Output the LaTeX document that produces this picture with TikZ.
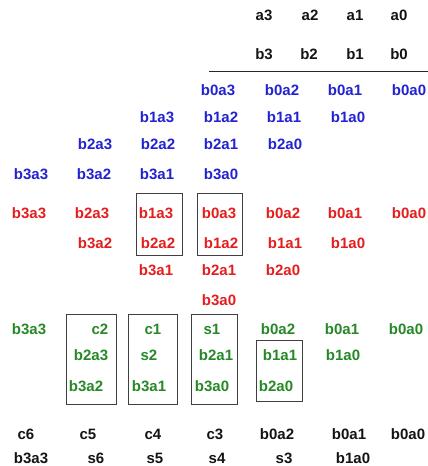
\documentclass[tikz,border=0pt]{standalone}
\usepackage{fontspec}
\setmainfont{Liberation Sans}
\definecolor{ppblue}{RGB}{34,34,208}
\definecolor{ppred}{RGB}{226,30,30}
\definecolor{ppgreen}{RGB}{38,136,38}
\definecolor{ppink}{RGB}{20,20,20}
\begin{document}
\begin{tikzpicture}[x=1pt,y=-1pt,
  term/.style={anchor=base,inner sep=0pt,font=\fontsize{15}{18}\selectfont\bfseries},
  opnd/.style={term,text=ppink},
  pblue/.style={term,text=ppblue},
  pred/.style={term,text=ppred},
  pgreen/.style={term,text=ppgreen},
  res/.style={term,text=ppink},
  group/.style={draw=black!75,line width=0.8pt},
  rule/.style={draw=black!85,line width=1.3pt}]
\useasboundingbox (0,0) rectangle (428,466);

% operands
\node[opnd] (a3) at (264,20.5) {a3};
\node[opnd] (a2) at (310,20.5) {a2};
\node[opnd] (a1) at (355,20.5) {a1};
\node[opnd] (a0) at (399,20.5) {a0};
\node[opnd] (b3) at (264,59) {b3};
\node[opnd] (b2) at (309,59) {b2};
\node[opnd] (b1) at (355,59) {b1};
\node[opnd] (b0) at (399,59) {b0};
\coordinate (ruleL) at (209,71.5);
\coordinate (ruleR) at (428,71.5);
\draw[rule] (ruleL) -- (ruleR);

% partial products
\node[pblue] (u03) at (218,95.5) {b0a3};
\node[pblue] (u02) at (282,95.5) {b0a2};
\node[pblue] (u01) at (345,95.5) {b0a1};
\node[pblue] (u00) at (409,95.5) {b0a0};
\node[pblue] (u13) at (157,122.5) {b1a3};
\node[pblue] (u12) at (221,122.5) {b1a2};
\node[pblue] (u11) at (284,122.5) {b1a1};
\node[pblue] (u10) at (348,122.5) {b1a0};
\node[pblue] (u23) at (95,149) {b2a3};
\node[pblue] (u22) at (158,149) {b2a2};
\node[pblue] (u21) at (221,149) {b2a1};
\node[pblue] (u20) at (285,149) {b2a0};
\node[pblue] (u33) at (31,179) {b3a3};
\node[pblue] (u32) at (94,179) {b3a2};
\node[pblue] (u31) at (157,179) {b3a1};
\node[pblue] (u30) at (221,179) {b3a0};

% first reduction
\node[pred] (r33) at (29,218) {b3a3};
\node[pred] (r23) at (92,218) {b2a3};
\node[pred] (r13) at (156,218) {b1a3};
\node[pred] (r03) at (219,218) {b0a3};
\node[pred] (r02) at (283,218) {b0a2};
\node[pred] (r01) at (345,218) {b0a1};
\node[pred] (r00) at (409,218) {b0a0};
\node[pred] (r32) at (95,248) {b3a2};
\node[pred] (r22) at (158,248) {b2a2};
\node[pred] (r12) at (221,248) {b1a2};
\node[pred] (r11) at (285,248) {b1a1};
\node[pred] (r10) at (348,248) {b1a0};
\node[pred] (r31) at (156,275) {b3a1};
\node[pred] (r21) at (219,275) {b2a1};
\node[pred] (r20) at (283,275) {b2a0};
\node[pred] (r30) at (219,305) {b3a0};
\draw[group] (136,193) rectangle (182,255);
\draw[group] (197,193) rectangle (242,255);

% second reduction
\node[pgreen] (g33) at (29,334) {b3a3};
\node[pgreen] (gc2) at (100,334) {c2};
\node[pgreen] (gc1) at (153,334) {c1};
\node[pgreen] (gs1) at (212,334) {s1};
\node[pgreen] (g02) at (278,334) {b0a2};
\node[pgreen] (g01) at (342,334) {b0a1};
\node[pgreen] (g00) at (406,334) {b0a0};
\node[pgreen] (g23) at (91,360.5) {b2a3};
\node[pgreen] (gs2) at (149,360.5) {s2};
\node[pgreen] (g21) at (216,360.5) {b2a1};
\node[pgreen] (g11) at (280,360.5) {b1a1};
\node[pgreen] (g10) at (343,360.5) {b1a0};
\node[pgreen] (g32) at (86,391.5) {b3a2};
\node[pgreen] (g31) at (149,391.5) {b3a1};
\node[pgreen] (g30) at (212,391.5) {b3a0};
\node[pgreen] (g20) at (276,391.5) {b2a0};
\draw[group] (66,314) rectangle (116,404);
\draw[group] (128,314) rectangle (177,404);
\draw[group] (191,314) rectangle (237,404);
\draw[group] (256,340) rectangle (302,401);

% final rows
\node[res] (c6) at (26,439) {c6};
\node[res] (c5) at (88,439) {c5};
\node[res] (c4) at (153,439) {c4};
\node[res] (c3) at (215,439) {c3};
\node[res] (f02) at (277,439) {b0a2};
\node[res] (f01) at (349,439) {b0a1};
\node[res] (f00) at (408,439) {b0a0};
\node[res] (f33) at (31,463) {b3a3};
\node[res] (s6) at (96,463) {s6};
\node[res] (s5) at (155,463) {s5};
\node[res] (s4) at (217,463) {s4};
\node[res] (s3) at (284,463) {s3};
\node[res] (f10) at (353,463) {b1a0};
\end{tikzpicture}
\end{document}
